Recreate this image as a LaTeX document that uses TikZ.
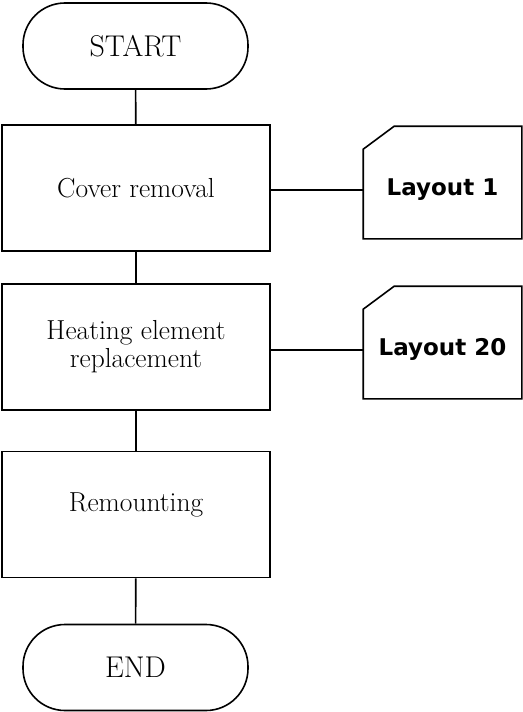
\documentclass[tikz,border=0pt]{standalone}
\usepackage{fontspec}
\newfontfamily\layoutfont{DejaVu Sans}
\begin{document}
\begin{tikzpicture}[x=1pt,y=-1pt,line width=1.6pt,
  term/.style={draw,rounded corners=42pt,minimum width=225pt,minimum height=86pt,inner sep=0pt,font=\fontsize{30}{34}\selectfont},
  proc/.style={draw,minimum width=268pt,minimum height=126pt,inner sep=0pt,align=center,font=\fontsize{27.5}{28}\selectfont},
  lay/.style={minimum width=157pt,minimum height=111pt,inner sep=0pt,text height=25pt,text depth=0pt,font=\layoutfont\bfseries\fontsize{23}{26}\selectfont},
  conn/.style={draw,line width=1.6pt}]
\useasboundingbox (0,0) rectangle (522,712);
\node[term] (start) at (135.5,46) {START};
\node[proc] (cover) at (136,188) {Cover removal};
\node[proc] (heat) at (136,347) {Heating element\\replacement};
\node[proc] (remount) at (136,514.5) {};
\node[font=\fontsize{27.5}{28}\selectfont] (remtext) at ([yshift=10pt]remount.center) {Remounting};
\node[term] (end) at (135.5,667.5) {END};
\node[lay] (l1) at (442.5,182.5) {Layout 1};
\node[lay] (l20) at (442.5,342.5) {Layout 20};
\foreach \n in {l1,l20}{
  \draw[line width=1.6pt] ([yshift=-23pt]\n.north west) -- ([xshift=31pt]\n.north west) -- (\n.north east) -- (\n.south east) -- (\n.south west) -- cycle;
}
\coordinate (c1) at (l1.west |- 0,190);
\coordinate (c20) at (l20.west |- 0,350);
\draw[conn] (start) -- (cover);
\draw[conn] (cover) -- (heat);
\draw[conn] (heat) -- (remount);
\draw[conn] (remount) -- (end);
\draw[conn] (cover.east |- c1) -- (c1);
\draw[conn] (heat.east |- c20) -- (c20);
\end{tikzpicture}
\end{document}
